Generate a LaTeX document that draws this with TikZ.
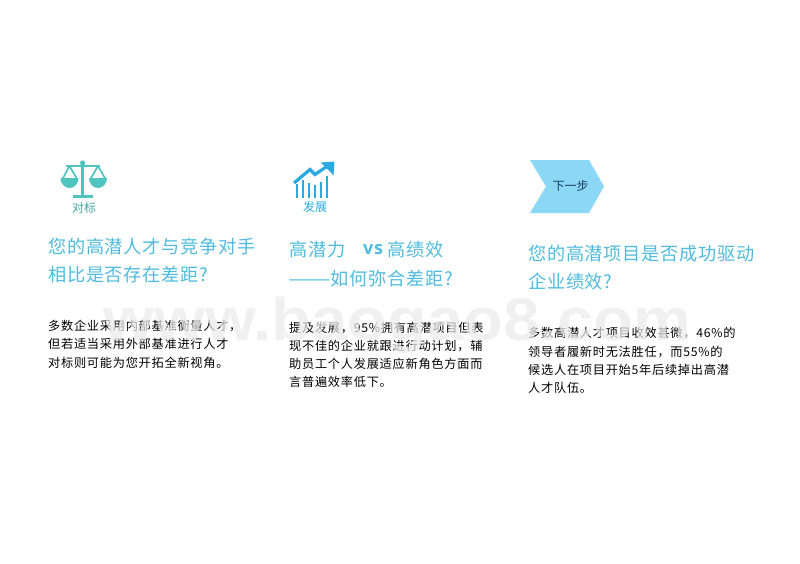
\documentclass[tikz,border=0pt]{standalone}
\usepackage{fontspec}
\setmainfont{Noto Sans CJK SC}
\newfontfamily\wmfont[FakeStretch=1.085]{Liberation Sans}
\newfontfamily\titlefont[LetterSpace=4]{Noto Sans CJK SC}
\newfontfamily\bodyfont[LetterSpace=6]{Noto Sans CJK SC}
\newfontfamily\vsfont[LetterSpace=4]{Open Sans}
\definecolor{titleblue}{HTML}{4FBBDE}
\definecolor{teal}{HTML}{4FC3BE}
\definecolor{chartblue}{HTML}{29ABE2}
\definecolor{chev}{HTML}{8AD8F5}
\definecolor{navy}{HTML}{1B3A5C}
\definecolor{wm}{HTML}{EAEAEA}
\tikzset{
  titleline/.style={anchor=west,inner sep=0pt,text=titleblue,font=\titlefont\fontsize{18.2}{20}\selectfont},
  bodyline/.style={anchor=west,inner sep=0pt,text=black,font=\bodyfont\fontsize{12.2}{14}\selectfont},
  iconlabel/.style={inner sep=0pt,font=\fontsize{12}{14}\selectfont},
}
\begin{document}
\begin{tikzpicture}[x=1pt,y=-1pt]
\useasboundingbox (0,0) rectangle (800,563);
% scales icon
\fill[teal] (80.8,162) rectangle (84.4,195);
\fill[teal] (82.6,163) circle (2.6);
\fill[teal] (73,194.5) rectangle (93,198);
\draw[teal,line width=2.2pt] (66,165.8) -- (100,165.8);
\draw[teal,line width=1.7pt,line join=round] (62.5,179) -- (69.5,166) -- (77,179);
\draw[teal,line width=1.7pt,line join=round] (90.5,179) -- (98,166) -- (105.5,179);
\fill[teal] (60.5,178) -- (78.5,178) arc[start angle=0,end angle=180,x radius=9,y radius=10] -- cycle;
\fill[teal] (89,178) -- (107,178) arc[start angle=0,end angle=180,x radius=9,y radius=10] -- cycle;
\node[iconlabel,text=teal!85!black] (l1) at (84,208) {对标};
% chart icon
\foreach \bx/\by in {297/184,303/180,309/183,315/185,321/182,327/176}
  \draw[chartblue,line width=2.2pt] (\bx,198) -- (\bx,\by);
\draw[chartblue,line width=3.2pt,line join=miter] (294,183) -- (310,169.5) -- (315,174.5) -- (329,165);
\fill[chartblue] (320.5,162.5) -- (334.5,161.5) -- (333.5,175.5) -- (329.5,171) -- (325,166.5) -- cycle;
\node[iconlabel,text=chartblue] (l2) at (315,207) {发展};
% chevron
\fill[chev] (530,160) -- (589,160) -- (604,186.5) -- (589,213) -- (530,213) -- (546,186.5) -- cycle;
\node[iconlabel,text=navy] (c1) at (570.5,185.5) {下一步};
% titles
\node[titleline] (t11) at (48,247) {您的高潜人才与竞争对手};
\node[titleline] (t12) at (48,275) {相比是否存在差距?};
\node[titleline] (t21) at (289,250) {高潜力};
\node[titleline,font=\vsfont\bfseries\fontsize{18}{20}\selectfont] (t2v) at (363,250) {vs};
\node[titleline] (t22) at (387.5,250) {高绩效};
\node[titleline] (t23) at (288,279) {\scalebox{1.4}[1]{——}如何弥合差距?};
\node[titleline] (t31) at (528,254) {您的高潜项目是否成功驱动};
\node[titleline] (t32) at (528,282) {企业绩效?};
% body
\node[bodyline] (a1) at (48,326) {多数企业采用内部基准衡量人才，};
\node[bodyline] (a2) at (48,344) {但若适当采用外部基准进行人才};
\node[bodyline] (a3) at (48,363) {对标则可能为您开拓全新视角。};
\node[bodyline] (b1) at (289,328) {提及发展，95\%拥有高潜项目但表};
\node[bodyline] (b2) at (289,346) {现不佳的企业就跟进行动计划，辅};
\node[bodyline] (b3) at (289,364) {助员工个人发展适应新角色方面而};
\node[bodyline] (b4) at (289,382) {言普遍效率低下。};
\node[bodyline] (d1) at (528,333) {多数高潜人才项目收效甚微，46\%的};
\node[bodyline] (d2) at (528,352) {领导者履新时无法胜任，而55\%的};
\node[bodyline] (d3) at (528,370) {候选人在项目开始5年后续掉出高潜};
\node[bodyline] (d4) at (528,388) {人才队伍。};
% watermark
\node[anchor=base,inner sep=0pt,text=wm,text opacity=.72,font=\wmfont\bfseries\fontsize{60}{70}\selectfont] (wmark) at (397.5,340) {www.baogao8.com};
\end{tikzpicture}
\end{document}
